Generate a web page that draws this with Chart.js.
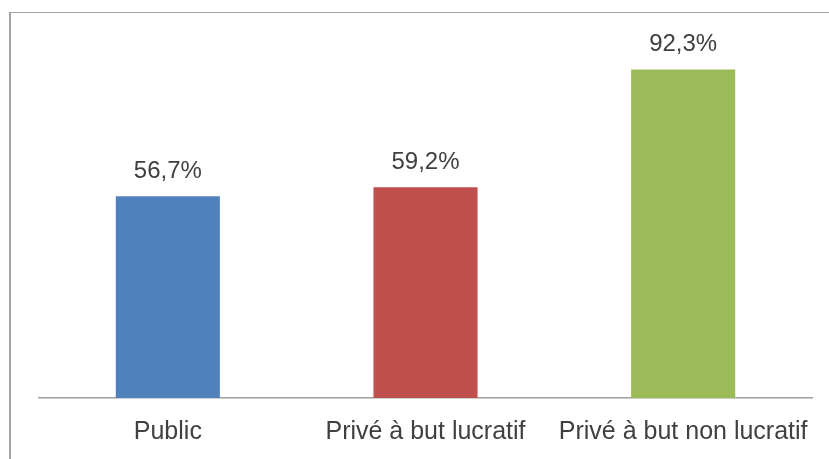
<!DOCTYPE html>
<html>
<head>
<meta charset="utf-8">
<script src="https://cdn.jsdelivr.net/npm/chart.js@4/dist/chart.umd.min.js"></script>
<style>
  html, body { margin: 0; padding: 0; background: #fff; overflow: hidden; }
  #wrap { position: relative; width: 829px; height: 459px; }
  #frame { position: absolute; left: 9px; top: 12px; width: 900px; height: 900px;
           border-left: 2px solid #a3a3a3; border-top: 1px solid #a3a3a3; }
  canvas { position: absolute; left: 0; top: 0; }
</style>
</head>
<body>
<div id="wrap">
  <div id="frame"></div>
  <canvas id="c" width="829" height="459"></canvas>
</div>
<script>
const categories = ["Public", "Privé à but lucratif", "Privé à but non lucratif"];
const values = [56.7, 59.2, 92.3];
const valueLabels = ["56,7%", "59,2%", "92,3%"];
const barColors = ["#4F81BD", "#C0504D", "#9BBB59"];

const FONT = "'Liberation Sans', Arial, sans-serif";

const valueLabelPlugin = {
  id: 'valueLabels',
  afterDatasetsDraw(chart) {
    const ctx = chart.ctx;
    const meta = chart.getDatasetMeta(0);
    ctx.save();
    ctx.font = "24px " + FONT;
    ctx.fillStyle = "#404040";
    ctx.textAlign = "center";
    ctx.textBaseline = "alphabetic";
    meta.data.forEach((bar, i) => {
      ctx.fillText(valueLabels[i], bar.x, bar.y - 18);
    });
    ctx.restore();
  }
};

new Chart(document.getElementById('c'), {
  type: 'bar',
  data: {
    labels: categories,
    datasets: [{
      data: values,
      backgroundColor: barColors,
      borderWidth: 0,
      barPercentage: 0.404,
      categoryPercentage: 1.0
    }]
  },
  options: {
    responsive: false,
    animation: false,
    devicePixelRatio: 1,
    layout: { padding: { left: 39, right: 17, top: 42, bottom: 0 } },
    plugins: { legend: { display: false }, tooltip: { enabled: false } },
    scales: {
      y: { display: false, min: 0, max: 100 },
      x: {
        grid: { display: false, drawTicks: false },
        border: { display: true, color: "#a0a0a0", width: 1.5 },
        ticks: {
          color: "#404040",
          font: { family: FONT, size: 25 },
          padding: 19,
          maxRotation: 0,
          autoSkip: false
        },
        afterFit: s => { s.height = 61; s.paddingLeft = 0; s.paddingRight = 0; }
      }
    }
  },
  plugins: [valueLabelPlugin]
});
</script>
</body>
</html>
